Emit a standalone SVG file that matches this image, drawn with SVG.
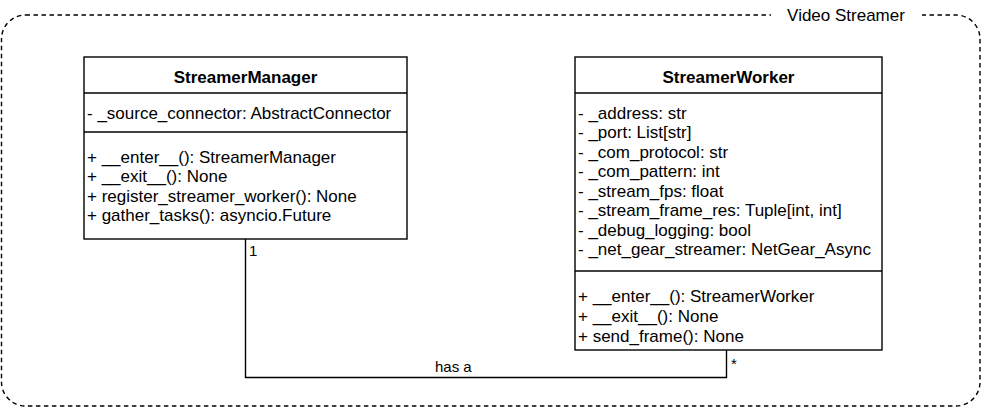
<svg xmlns="http://www.w3.org/2000/svg" width="982" height="408" viewBox="0 0 982 408">
<style>
text{font-family:"Liberation Sans",Arial,Helvetica,sans-serif;fill:#000}
.t{font-size:17px}
.h{font-size:17px;font-weight:bold;text-anchor:middle}
.l{font-size:15px}
.box{fill:#fff;stroke:#000;stroke-width:1.4}
.sep{stroke:#000;stroke-width:1.4}
.edge{fill:none;stroke:#000;stroke-width:1.4}
</style>
<g id="frame">
<rect x="1.5" y="15" width="978.5" height="391" rx="24" ry="24" fill="none" stroke="#000" stroke-width="1.4" stroke-dasharray="4.5 3.5"/>
<rect x="771" y="4" width="151" height="22" fill="#fff"/>
<text x="846" y="21" class="t" text-anchor="middle">Video Streamer</text>
</g>
<g id="connectors">
<path class="edge" d="M245.5 239 V377.5 H726.5 V350"/>
<text x="249" y="256" class="l">1</text>
<text x="435" y="372" class="l">has a</text>
<text x="731" y="369" class="l">*</text>
</g>
<g id="StreamerManager">
<rect class="box" x="84" y="57" width="323" height="182"/>
<line class="sep" x1="84" y1="93" x2="407" y2="93"/>
<line class="sep" x1="84" y1="132" x2="407" y2="132"/>
<text x="245.5" y="82.5" class="h">StreamerManager</text>
<text x="87" y="119" class="t">- _source_connector: AbstractConnector</text>
<text x="87" y="162.5" class="t">+ __enter__(): StreamerManager</text>
<text x="87" y="182" class="t">+ __exit__(): None</text>
<text x="87" y="201.5" class="t">+ register_streamer_worker(): None</text>
<text x="87" y="221" class="t">+ gather_tasks(): asyncio.Future</text>
</g>
<g id="StreamerWorker">
<rect class="box" x="575" y="57" width="307" height="293"/>
<line class="sep" x1="575" y1="93" x2="882" y2="93"/>
<line class="sep" x1="575" y1="271" x2="882" y2="271"/>
<text x="728.5" y="82.5" class="h">StreamerWorker</text>
<text x="578" y="118.5" class="t">- _address: str</text>
<text x="578" y="138" class="t">- _port: List[str]</text>
<text x="578" y="157.5" class="t">- _com_protocol: str</text>
<text x="578" y="177" class="t">- _com_pattern: int</text>
<text x="578" y="196.5" class="t">- _stream_fps: float</text>
<text x="578" y="216" class="t">- _stream_frame_res: Tuple[int, int]</text>
<text x="578" y="235.5" class="t">- _debug_logging: bool</text>
<text x="578" y="255" class="t">- _net_gear_streamer: NetGear_Async</text>
<text x="578" y="302" class="t">+ __enter__(): StreamerWorker</text>
<text x="578" y="322" class="t">+ __exit__(): None</text>
<text x="578" y="342" class="t">+ send_frame(): None</text>
</g>
</svg>
